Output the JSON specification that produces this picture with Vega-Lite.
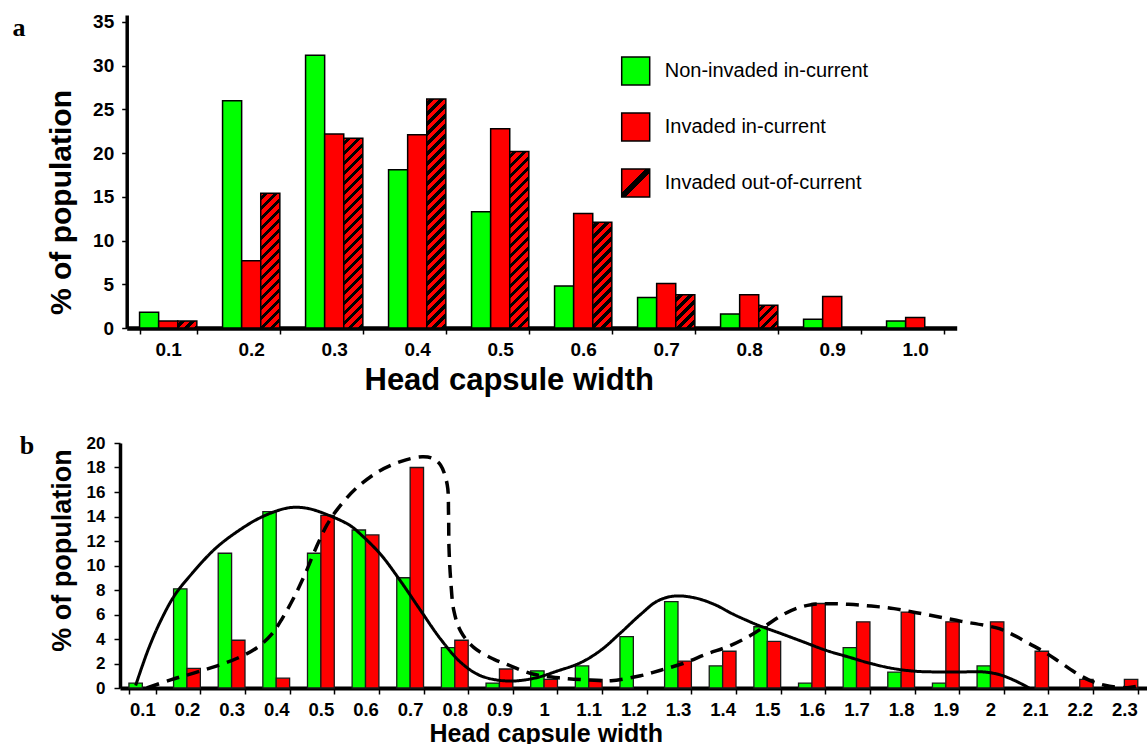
{
  "$schema": "https://vega.github.io/schema/vega-lite/v6.json",
  "background": "white",
  "padding": {"left": 12, "top": 12, "right": 0, "bottom": 0},
  "spacing": 38,
  "config": {
    "view": {"stroke": null},
    "axis": {"labelFont": "Liberation Sans", "titleFont": "Liberation Sans", "labelColor": "#000", "titleColor": "#000", "domainColor": "#000", "tickColor": "#000", "grid": false},
    "legend": {"labelFont": "Liberation Sans"}
  },
  "resolve": {
    "scale": {"x": "independent", "y": "independent", "fill": "independent", "xOffset": "independent", "opacity": "independent"},
    "legend": {"opacity": "independent"}
  },
  "vconcat": [
    {
      "width": 836.7,
      "height": 313,
      "title": {"text": "a", "anchor": "end", "frame": "group", "orient": "left", "angle": 0, "align": "right", "font": "Liberation Serif", "fontSize": 26, "fontWeight": "bold", "color": "#000", "baseline": "alphabetic", "offset": 7.8, "dx": 0, "dy": 21},
      "data": {"values": [
        {"w": "0.1", "grp": "Non-invaded in-current", "pct": 1.8},
        {"w": "0.1", "grp": "Invaded in-current", "pct": 0.8},
        {"w": "0.1", "grp": "Invaded out-of-current", "pct": 0.8},
        {"w": "0.2", "grp": "Non-invaded in-current", "pct": 26.0},
        {"w": "0.2", "grp": "Invaded in-current", "pct": 7.7},
        {"w": "0.2", "grp": "Invaded out-of-current", "pct": 15.4},
        {"w": "0.3", "grp": "Non-invaded in-current", "pct": 31.2},
        {"w": "0.3", "grp": "Invaded in-current", "pct": 22.2},
        {"w": "0.3", "grp": "Invaded out-of-current", "pct": 21.7},
        {"w": "0.4", "grp": "Non-invaded in-current", "pct": 18.1},
        {"w": "0.4", "grp": "Invaded in-current", "pct": 22.1},
        {"w": "0.4", "grp": "Invaded out-of-current", "pct": 26.2},
        {"w": "0.5", "grp": "Non-invaded in-current", "pct": 13.3},
        {"w": "0.5", "grp": "Invaded in-current", "pct": 22.8},
        {"w": "0.5", "grp": "Invaded out-of-current", "pct": 20.2},
        {"w": "0.6", "grp": "Non-invaded in-current", "pct": 4.8},
        {"w": "0.6", "grp": "Invaded in-current", "pct": 13.1},
        {"w": "0.6", "grp": "Invaded out-of-current", "pct": 12.1},
        {"w": "0.7", "grp": "Non-invaded in-current", "pct": 3.5},
        {"w": "0.7", "grp": "Invaded in-current", "pct": 5.1},
        {"w": "0.7", "grp": "Invaded out-of-current", "pct": 3.8},
        {"w": "0.8", "grp": "Non-invaded in-current", "pct": 1.6},
        {"w": "0.8", "grp": "Invaded in-current", "pct": 3.8},
        {"w": "0.8", "grp": "Invaded out-of-current", "pct": 2.6},
        {"w": "0.9", "grp": "Non-invaded in-current", "pct": 1.0},
        {"w": "0.9", "grp": "Invaded in-current", "pct": 3.6},
        {"w": "1.0", "grp": "Non-invaded in-current", "pct": 0.8},
        {"w": "1.0", "grp": "Invaded in-current", "pct": 1.2}
      ]},
      "encoding": {
        "x": {
          "field": "w", "type": "nominal",
          "scale": {"domain": ["0.1","0.2","0.3","0.4","0.5","0.6","0.7","0.8","0.9","1.0"], "range": [6.7, 836.7], "paddingInner": 0.31, "paddingOuter": 0.155},
          "axis": {"title": "Head capsule width", "titleFontSize": 31, "titleFontWeight": "bold", "titleX": 388.7, "titleY": 61, "titleAlign": "center", "titleBaseline": "alphabetic", "titleAnchor": "start", "labelAngle": 0, "labelFontSize": 19, "labelFontWeight": "bold", "labelPadding": 6, "labelOverlap": false, "tickBand": "extent", "tickSize": 6, "tickWidth": 1.5, "domainWidth": 4.5}
        },
        "xOffset": {"field": "grp", "type": "nominal", "scale": {"domain": ["Non-invaded in-current", "Invaded in-current", "Invaded out-of-current"], "paddingInner": 0, "paddingOuter": 0}},
        "y": {
          "field": "pct", "type": "quantitative",
          "scale": {"domain": [0, 35.8], "nice": false},
          "axis": {"values": [0,5,10,15,20,25,30,35], "title": "% of population", "titleFontSize": 30, "titleFontWeight": "bold", "titleX": -56.5, "titleY": 187, "titleAngle": 270, "titleAlign": "center", "titleBaseline": "alphabetic", "titleAnchor": "start", "labelFontSize": 19, "labelFontWeight": "bold", "labelPadding": 8, "labelOverlap": false, "tickSize": 5, "tickWidth": 1.5, "domainWidth": 3.5, "offset": -6.7}
        }
      },
      "layer": [
        {
          "transform": [{"filter": "datum.grp !== 'Invaded out-of-current'"}],
          "mark": {"type": "bar", "stroke": "#000", "strokeWidth": 1.5},
          "encoding": {
            "fill": {"condition": {"test": "datum.grp === 'Non-invaded in-current'", "value": "#00ff00"}, "value": "#ff0000"},
            "opacity": {
              "field": "grp", "type": "nominal",
              "scale": {"domain": ["Non-invaded in-current", "Invaded in-current", "Invaded out-of-current"], "range": [1, 1, 1]},
              "legend": {"title": null, "orient": "none", "legendX": 500.7, "legendY": 41, "symbolType": "square", "symbolSize": 784, "symbolStrokeColor": "#000", "symbolStrokeWidth": 1.5, "labelFontSize": 20, "labelColor": "#000", "labelOffset": 14, "rowPadding": 22, "padding": 0, "labelLimit": 400,
                "encoding": {"symbols": {
                  "stroke": {"value": "#000"},
                  "strokeWidth": {"value": 1.5},
                  "fill": {"value": {"expr": "datum.value === 'Invaded out-of-current' ? {gradient:'linear',x1:0,y1:0,x2:1,y2:1,stops:[{offset:0,color:'#f00'},{offset:0.43,color:'#f00'},{offset:0.43,color:'#000'},{offset:0.57,color:'#000'},{offset:0.57,color:'#f00'},{offset:1,color:'#f00'}]} : (datum.value === 'Non-invaded in-current' ? '#00ff00' : '#ff0000')"}}
                }}
              }
            }
          }
        },
        {
          "transform": [{"filter": "datum.grp === 'Invaded out-of-current'"}],
          "mark": {
            "type": "bar", "stroke": "#000", "strokeWidth": 1.5,
            "fill": {"expr": "{gradient:'linear',x1:0,y1:0,x2:19.1*250/(364.8+76.44*datum.pct*datum.pct),y2:datum.pct*8.743*250/(364.8+76.44*datum.pct*datum.pct),stops:[{offset:0,color:'#f00'},{offset:0.012,color:'#f00'},{offset:0.012,color:'#000'},{offset:0.03,color:'#000'},{offset:0.03,color:'#f00'},{offset:0.052,color:'#f00'},{offset:0.052,color:'#000'},{offset:0.07,color:'#000'},{offset:0.07,color:'#f00'},{offset:0.092,color:'#f00'},{offset:0.092,color:'#000'},{offset:0.11,color:'#000'},{offset:0.11,color:'#f00'},{offset:0.132,color:'#f00'},{offset:0.132,color:'#000'},{offset:0.15,color:'#000'},{offset:0.15,color:'#f00'},{offset:0.172,color:'#f00'},{offset:0.172,color:'#000'},{offset:0.19,color:'#000'},{offset:0.19,color:'#f00'},{offset:0.212,color:'#f00'},{offset:0.212,color:'#000'},{offset:0.23,color:'#000'},{offset:0.23,color:'#f00'},{offset:0.252,color:'#f00'},{offset:0.252,color:'#000'},{offset:0.27,color:'#000'},{offset:0.27,color:'#f00'},{offset:0.292,color:'#f00'},{offset:0.292,color:'#000'},{offset:0.31,color:'#000'},{offset:0.31,color:'#f00'},{offset:0.332,color:'#f00'},{offset:0.332,color:'#000'},{offset:0.35,color:'#000'},{offset:0.35,color:'#f00'},{offset:0.372,color:'#f00'},{offset:0.372,color:'#000'},{offset:0.39,color:'#000'},{offset:0.39,color:'#f00'},{offset:0.412,color:'#f00'},{offset:0.412,color:'#000'},{offset:0.43,color:'#000'},{offset:0.43,color:'#f00'},{offset:0.452,color:'#f00'},{offset:0.452,color:'#000'},{offset:0.47,color:'#000'},{offset:0.47,color:'#f00'},{offset:0.492,color:'#f00'},{offset:0.492,color:'#000'},{offset:0.51,color:'#000'},{offset:0.51,color:'#f00'},{offset:0.532,color:'#f00'},{offset:0.532,color:'#000'},{offset:0.55,color:'#000'},{offset:0.55,color:'#f00'},{offset:0.572,color:'#f00'},{offset:0.572,color:'#000'},{offset:0.59,color:'#000'},{offset:0.59,color:'#f00'},{offset:0.612,color:'#f00'},{offset:0.612,color:'#000'},{offset:0.63,color:'#000'},{offset:0.63,color:'#f00'},{offset:0.652,color:'#f00'},{offset:0.652,color:'#000'},{offset:0.67,color:'#000'},{offset:0.67,color:'#f00'},{offset:0.692,color:'#f00'},{offset:0.692,color:'#000'},{offset:0.71,color:'#000'},{offset:0.71,color:'#f00'},{offset:0.732,color:'#f00'},{offset:0.732,color:'#000'},{offset:0.75,color:'#000'},{offset:0.75,color:'#f00'},{offset:0.772,color:'#f00'},{offset:0.772,color:'#000'},{offset:0.79,color:'#000'},{offset:0.79,color:'#f00'},{offset:0.812,color:'#f00'},{offset:0.812,color:'#000'},{offset:0.83,color:'#000'},{offset:0.83,color:'#f00'},{offset:0.852,color:'#f00'},{offset:0.852,color:'#000'},{offset:0.87,color:'#000'},{offset:0.87,color:'#f00'},{offset:0.892,color:'#f00'},{offset:0.892,color:'#000'},{offset:0.91,color:'#000'},{offset:0.91,color:'#f00'},{offset:0.932,color:'#f00'},{offset:0.932,color:'#000'},{offset:0.95,color:'#000'},{offset:0.95,color:'#f00'},{offset:0.972,color:'#f00'},{offset:0.972,color:'#000'},{offset:0.99,color:'#000'},{offset:0.99,color:'#f00'},{offset:1,color:'#f00'}]}"}
          }
        }
      ]
    },
    {
      "width": 1026.7,
      "height": 245,
      "title": {"text": "b", "anchor": "end", "frame": "group", "orient": "left", "angle": 0, "align": "right", "font": "Liberation Serif", "fontSize": 26, "fontWeight": "bold", "color": "#000", "baseline": "alphabetic", "offset": -0.7, "dx": 0, "dy": 11},
      "resolve": {"scale": {"x": "independent"}, "axis": {"x": "independent"}},
      "encoding": {
        "y": {
          "field": "pct", "type": "quantitative",
          "scale": {"domain": [0, 20], "nice": false},
          "axis": {"values": [0,2,4,6,8,10,12,14,16,18,20], "title": "% of population", "titleFontSize": 27, "titleFontWeight": "bold", "titleX": -50, "titleY": 107, "titleAngle": 270, "titleAlign": "center", "titleBaseline": "alphabetic", "titleAnchor": "start", "labelFontSize": 17, "labelFontWeight": "bold", "labelPadding": 9, "labelOverlap": false, "tickSize": 6, "tickWidth": 1.5, "domainWidth": 3.5}
        }
      },
      "layer": [
        {
          "data": {"values": [
            {"w": "0.1", "grp": "Non-invaded", "pct": 0.4},
            {"w": "0.2", "grp": "Non-invaded", "pct": 8.1},
            {"w": "0.2", "grp": "Invaded", "pct": 1.6},
            {"w": "0.3", "grp": "Non-invaded", "pct": 11.0},
            {"w": "0.3", "grp": "Invaded", "pct": 3.9},
            {"w": "0.4", "grp": "Non-invaded", "pct": 14.4},
            {"w": "0.4", "grp": "Invaded", "pct": 0.8},
            {"w": "0.5", "grp": "Non-invaded", "pct": 11.0},
            {"w": "0.5", "grp": "Invaded", "pct": 14.1},
            {"w": "0.6", "grp": "Non-invaded", "pct": 12.9},
            {"w": "0.6", "grp": "Invaded", "pct": 12.5},
            {"w": "0.7", "grp": "Non-invaded", "pct": 9.0},
            {"w": "0.7", "grp": "Invaded", "pct": 18.0},
            {"w": "0.8", "grp": "Non-invaded", "pct": 3.3},
            {"w": "0.8", "grp": "Invaded", "pct": 3.9},
            {"w": "0.9", "grp": "Non-invaded", "pct": 0.4},
            {"w": "0.9", "grp": "Invaded", "pct": 1.55},
            {"w": "1", "grp": "Non-invaded", "pct": 1.4},
            {"w": "1", "grp": "Invaded", "pct": 0.7},
            {"w": "1.1", "grp": "Non-invaded", "pct": 1.8},
            {"w": "1.1", "grp": "Invaded", "pct": 0.7},
            {"w": "1.2", "grp": "Non-invaded", "pct": 4.2},
            {"w": "1.3", "grp": "Non-invaded", "pct": 7.05},
            {"w": "1.3", "grp": "Invaded", "pct": 2.2},
            {"w": "1.4", "grp": "Non-invaded", "pct": 1.8},
            {"w": "1.4", "grp": "Invaded", "pct": 3.0},
            {"w": "1.5", "grp": "Non-invaded", "pct": 5.0},
            {"w": "1.5", "grp": "Invaded", "pct": 3.8},
            {"w": "1.6", "grp": "Non-invaded", "pct": 0.4},
            {"w": "1.6", "grp": "Invaded", "pct": 6.9},
            {"w": "1.7", "grp": "Non-invaded", "pct": 3.3},
            {"w": "1.7", "grp": "Invaded", "pct": 5.4},
            {"w": "1.8", "grp": "Non-invaded", "pct": 1.3},
            {"w": "1.8", "grp": "Invaded", "pct": 6.2},
            {"w": "1.9", "grp": "Non-invaded", "pct": 0.4},
            {"w": "1.9", "grp": "Invaded", "pct": 5.4},
            {"w": "2", "grp": "Non-invaded", "pct": 1.8},
            {"w": "2", "grp": "Invaded", "pct": 5.4},
            {"w": "2.1", "grp": "Invaded", "pct": 3.0},
            {"w": "2.2", "grp": "Invaded", "pct": 0.7},
            {"w": "2.3", "grp": "Invaded", "pct": 0.7}
          ]},
          "mark": {"type": "bar", "stroke": "#1a1a1a", "strokeWidth": 1.3},
          "encoding": {
            "x": {
              "field": "w", "type": "nominal",
              "scale": {"domain": ["0.1","0.2","0.3","0.4","0.5","0.6","0.7","0.8","0.9","1","1.1","1.2","1.3","1.4","1.5","1.6","1.7","1.8","1.9","2","2.1","2.2","2.3"], "paddingInner": 0.4, "paddingOuter": 0.2},
              "axis": {"title": "Head capsule width", "titleFontSize": 25, "titleFontWeight": "bold", "titleX": 425.7, "titleY": 53, "titleAlign": "center", "titleBaseline": "alphabetic", "titleAnchor": "start", "labelAngle": 0, "labelFontSize": 18.5, "labelFontWeight": "bold", "labelPadding": 6, "labelOverlap": false, "tickBand": "extent", "tickSize": 6, "tickWidth": 1.5, "domainWidth": 4}
            },
            "xOffset": {"field": "grp", "type": "nominal", "scale": {"domain": ["Non-invaded", "Invaded"], "paddingInner": 0, "paddingOuter": 0}},
            "fill": {"field": "grp", "type": "nominal", "scale": {"domain": ["Non-invaded", "Invaded"], "range": ["#00ff00", "#ff0000"]}, "legend": null}
          }
        },
        {
          "data": {"values": [
            {"grp": "solid", "i": 0, "hx": 0.085, "pct": 0.2},
            {"grp": "solid", "i": 1, "hx": 0.098, "pct": 1.6},
            {"grp": "solid", "i": 2, "hx": 0.115, "pct": 3.3},
            {"grp": "solid", "i": 3, "hx": 0.14, "pct": 5.4},
            {"grp": "solid", "i": 4, "hx": 0.173, "pct": 7.6},
            {"grp": "solid", "i": 5, "hx": 0.215, "pct": 9.5},
            {"grp": "solid", "i": 6, "hx": 0.264, "pct": 11.4},
            {"grp": "solid", "i": 7, "hx": 0.314, "pct": 12.8},
            {"grp": "solid", "i": 8, "hx": 0.364, "pct": 13.9},
            {"grp": "solid", "i": 9, "hx": 0.414, "pct": 14.6},
            {"grp": "solid", "i": 10, "hx": 0.44, "pct": 14.75},
            {"grp": "solid", "i": 11, "hx": 0.472, "pct": 14.65},
            {"grp": "solid", "i": 12, "hx": 0.514, "pct": 14.15},
            {"grp": "solid", "i": 13, "hx": 0.564, "pct": 13.3},
            {"grp": "solid", "i": 14, "hx": 0.589, "pct": 12.55},
            {"grp": "solid", "i": 15, "hx": 0.634, "pct": 10.9},
            {"grp": "solid", "i": 16, "hx": 0.679, "pct": 8.7},
            {"grp": "solid", "i": 17, "hx": 0.724, "pct": 6.3},
            {"grp": "solid", "i": 18, "hx": 0.768, "pct": 4.0},
            {"grp": "solid", "i": 19, "hx": 0.813, "pct": 2.1},
            {"grp": "solid", "i": 20, "hx": 0.858, "pct": 1.0},
            {"grp": "solid", "i": 21, "hx": 0.918, "pct": 0.57},
            {"grp": "solid", "i": 22, "hx": 0.977, "pct": 0.79},
            {"grp": "solid", "i": 23, "hx": 1.03, "pct": 1.39},
            {"grp": "solid", "i": 24, "hx": 1.082, "pct": 2.07},
            {"grp": "solid", "i": 25, "hx": 1.127, "pct": 3.08},
            {"grp": "solid", "i": 26, "hx": 1.172, "pct": 4.52},
            {"grp": "solid", "i": 27, "hx": 1.216, "pct": 6.0},
            {"grp": "solid", "i": 28, "hx": 1.254, "pct": 7.1},
            {"grp": "solid", "i": 29, "hx": 1.291, "pct": 7.5},
            {"grp": "solid", "i": 30, "hx": 1.336, "pct": 7.37},
            {"grp": "solid", "i": 31, "hx": 1.381, "pct": 6.83},
            {"grp": "solid", "i": 32, "hx": 1.425, "pct": 6.0},
            {"grp": "solid", "i": 33, "hx": 1.48, "pct": 5.12},
            {"grp": "solid", "i": 34, "hx": 1.531, "pct": 4.44},
            {"grp": "solid", "i": 35, "hx": 1.581, "pct": 3.76},
            {"grp": "solid", "i": 36, "hx": 1.632, "pct": 3.07},
            {"grp": "solid", "i": 37, "hx": 1.682, "pct": 2.53},
            {"grp": "solid", "i": 38, "hx": 1.733, "pct": 1.99},
            {"grp": "solid", "i": 39, "hx": 1.784, "pct": 1.58},
            {"grp": "solid", "i": 40, "hx": 1.834, "pct": 1.36},
            {"grp": "solid", "i": 41, "hx": 1.885, "pct": 1.31},
            {"grp": "solid", "i": 42, "hx": 1.935, "pct": 1.31},
            {"grp": "solid", "i": 43, "hx": 1.986, "pct": 1.31},
            {"grp": "solid", "i": 44, "hx": 2.02, "pct": 1.09},
            {"grp": "solid", "i": 45, "hx": 2.053, "pct": 0.63},
            {"grp": "solid", "i": 46, "hx": 2.087, "pct": 0.0},
            {"grp": "dashed", "i": 0, "hx": 0.11, "pct": 0.0},
            {"grp": "dashed", "i": 1, "hx": 0.165, "pct": 0.68},
            {"grp": "dashed", "i": 2, "hx": 0.215, "pct": 1.22},
            {"grp": "dashed", "i": 3, "hx": 0.264, "pct": 1.77},
            {"grp": "dashed", "i": 4, "hx": 0.314, "pct": 2.45},
            {"grp": "dashed", "i": 5, "hx": 0.356, "pct": 3.27},
            {"grp": "dashed", "i": 6, "hx": 0.389, "pct": 4.35},
            {"grp": "dashed", "i": 7, "hx": 0.414, "pct": 5.71},
            {"grp": "dashed", "i": 8, "hx": 0.439, "pct": 7.35},
            {"grp": "dashed", "i": 9, "hx": 0.464, "pct": 9.25},
            {"grp": "dashed", "i": 10, "hx": 0.489, "pct": 11.43},
            {"grp": "dashed", "i": 11, "hx": 0.514, "pct": 13.33},
            {"grp": "dashed", "i": 12, "hx": 0.539, "pct": 14.69},
            {"grp": "dashed", "i": 13, "hx": 0.58, "pct": 16.33},
            {"grp": "dashed", "i": 14, "hx": 0.63, "pct": 17.69},
            {"grp": "dashed", "i": 15, "hx": 0.68, "pct": 18.5},
            {"grp": "dashed", "i": 16, "hx": 0.727, "pct": 18.88},
            {"grp": "dashed", "i": 17, "hx": 0.75, "pct": 18.75},
            {"grp": "dashed", "i": 18, "hx": 0.768, "pct": 18.2},
            {"grp": "dashed", "i": 19, "hx": 0.783, "pct": 16.6},
            {"grp": "dashed", "i": 20, "hx": 0.786, "pct": 14.2},
            {"grp": "dashed", "i": 21, "hx": 0.787, "pct": 11.45},
            {"grp": "dashed", "i": 22, "hx": 0.791, "pct": 8.73},
            {"grp": "dashed", "i": 23, "hx": 0.798, "pct": 6.29},
            {"grp": "dashed", "i": 24, "hx": 0.813, "pct": 4.65},
            {"grp": "dashed", "i": 25, "hx": 0.843, "pct": 3.29},
            {"grp": "dashed", "i": 26, "hx": 0.888, "pct": 2.34},
            {"grp": "dashed", "i": 27, "hx": 0.918, "pct": 1.9},
            {"grp": "dashed", "i": 28, "hx": 0.977, "pct": 1.12},
            {"grp": "dashed", "i": 29, "hx": 1.045, "pct": 0.79},
            {"grp": "dashed", "i": 30, "hx": 1.112, "pct": 0.63},
            {"grp": "dashed", "i": 31, "hx": 1.15, "pct": 0.6},
            {"grp": "dashed", "i": 32, "hx": 1.216, "pct": 1.0},
            {"grp": "dashed", "i": 33, "hx": 1.261, "pct": 1.45},
            {"grp": "dashed", "i": 34, "hx": 1.311, "pct": 2.0},
            {"grp": "dashed", "i": 35, "hx": 1.366, "pct": 2.8},
            {"grp": "dashed", "i": 36, "hx": 1.413, "pct": 3.4},
            {"grp": "dashed", "i": 37, "hx": 1.463, "pct": 4.3},
            {"grp": "dashed", "i": 38, "hx": 1.497, "pct": 5.1},
            {"grp": "dashed", "i": 39, "hx": 1.531, "pct": 5.9},
            {"grp": "dashed", "i": 40, "hx": 1.564, "pct": 6.48},
            {"grp": "dashed", "i": 41, "hx": 1.598, "pct": 6.8},
            {"grp": "dashed", "i": 42, "hx": 1.632, "pct": 6.88},
            {"grp": "dashed", "i": 43, "hx": 1.682, "pct": 6.83},
            {"grp": "dashed", "i": 44, "hx": 1.733, "pct": 6.69},
            {"grp": "dashed", "i": 45, "hx": 1.784, "pct": 6.48},
            {"grp": "dashed", "i": 46, "hx": 1.834, "pct": 6.15},
            {"grp": "dashed", "i": 47, "hx": 1.885, "pct": 5.8},
            {"grp": "dashed", "i": 48, "hx": 1.935, "pct": 5.44},
            {"grp": "dashed", "i": 49, "hx": 1.986, "pct": 5.12},
            {"grp": "dashed", "i": 50, "hx": 2.02, "pct": 4.84},
            {"grp": "dashed", "i": 51, "hx": 2.053, "pct": 4.3},
            {"grp": "dashed", "i": 52, "hx": 2.087, "pct": 3.62},
            {"grp": "dashed", "i": 53, "hx": 2.121, "pct": 2.94},
            {"grp": "dashed", "i": 54, "hx": 2.155, "pct": 2.12},
            {"grp": "dashed", "i": 55, "hx": 2.188, "pct": 1.31},
            {"grp": "dashed", "i": 56, "hx": 2.222, "pct": 0.63},
            {"grp": "dashed", "i": 57, "hx": 2.256, "pct": 0.22},
            {"grp": "dashed", "i": 58, "hx": 2.306, "pct": 0.03},
            {"grp": "dashed", "i": 59, "hx": 2.34, "pct": 0.22}
          ]},
          "mark": {"type": "line", "interpolate": "catmull-rom", "color": "#000"},
          "encoding": {
            "x": {"field": "hx", "type": "quantitative", "scale": {"domain": [0.05, 2.35], "nice": false, "zero": false}, "axis": null},
            "order": {"field": "i", "type": "quantitative"},
            "strokeDash": {"field": "grp", "type": "nominal", "scale": {"domain": ["solid", "dashed"], "range": [[1, 0], [13, 8]]}, "legend": null},
            "strokeWidth": {"field": "grp", "type": "nominal", "scale": {"domain": ["solid", "dashed"], "range": [3, 3.5]}, "legend": null}
          }
        }
      ]
    }
  ]
}
